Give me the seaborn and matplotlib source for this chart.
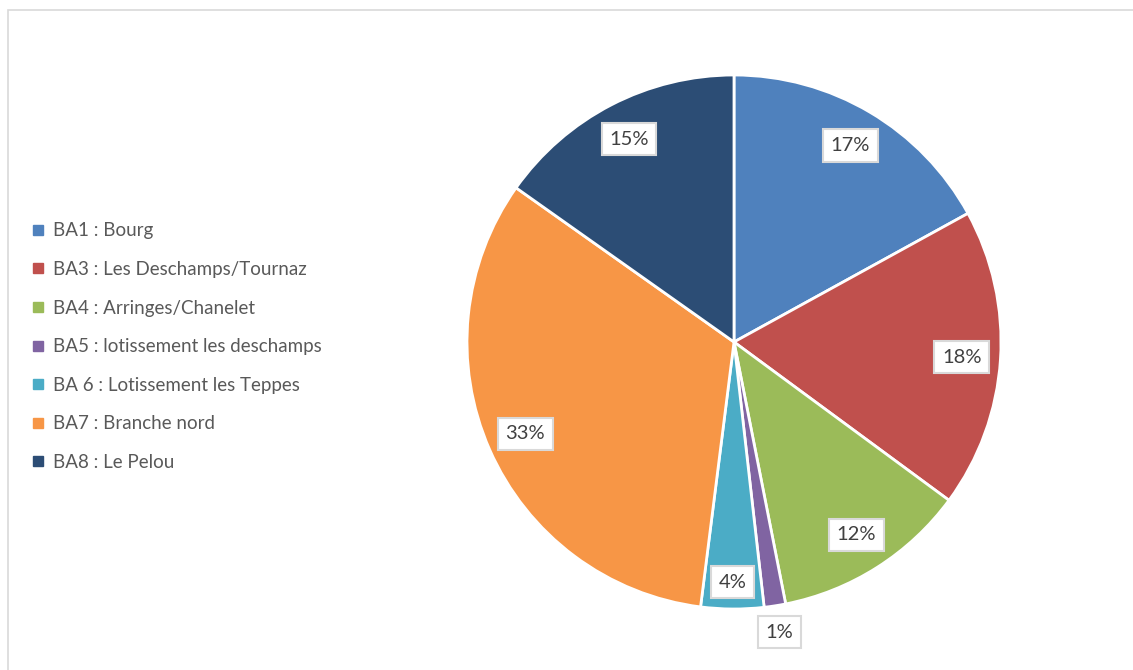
import matplotlib
matplotlib.use("Agg")
import matplotlib.pyplot as plt
import seaborn as sns
import numpy as np
from matplotlib.patches import Rectangle
from matplotlib.lines import Line2D

categories = ["BA1 : Bourg", "BA3 : Les Deschamps/Tournaz", "BA4 : Arringes/Chanelet",
              "BA5 : lotissement les deschamps", "BA 6 : Lotissement les Teppes",
              "BA7 : Branche nord", "BA8 : Le Pelou"]
values = [17.0, 18.1, 11.8, 1.3, 3.8, 32.8, 15.2]
colors = ["#4F81BD", "#C0504D", "#9BBB59", "#8064A2", "#4BACC6", "#F79646", "#2C4D75"]

sns.set_theme(style="white")
plt.rcParams['font.family'] = ['Lato', 'DejaVu Sans']

fig = plt.figure(figsize=(11.33, 6.7), dpi=100)
fig.patch.set_facecolor("white")
fig.add_artist(Rectangle((8/1133, -0.05), 1.2, (670-10)/670 + 0.05, transform=fig.transFigure,
                         fill=False, edgecolor="#D9D9D9", linewidth=1.2))

R = 267
ax = fig.add_axes([(734-R)/1133, (670-342-R)/670, 2*R/1133, 2*R/670])
wedges, _ = ax.pie(values, colors=colors, startangle=90, counterclock=False,
                   wedgeprops=dict(edgecolor="white", linewidth=2))
ax.set_xlim(-1, 1)
ax.set_ylim(-1, 1)
ax.set_aspect("equal")
ax.axis("off")

total = sum(values)
for w, v in zip(wedges, values):
    ang = np.deg2rad((w.theta1 + w.theta2) / 2)
    r = 1.1 if v < 2 else (0.9 if v < 5 else 0.855)
    ax.text(r*np.cos(ang), r*np.sin(ang), f"{round(v/total*100):.0f}%",
            ha="center", va="center", fontsize=14.5, color="#404040",
            bbox=dict(boxstyle="square,pad=0.38", facecolor="white", edgecolor="#D9D9D9", linewidth=1.5))

handles = [Line2D([0], [0], marker="s", linestyle="none", markersize=7,
                  markerfacecolor=c, markeredgecolor=c) for c in colors]
leg = fig.legend(handles, categories, loc="upper left", bbox_to_anchor=(23/1133, 1 - 215/670),
                 frameon=False, fontsize=13.5, labelspacing=1.15, handlelength=0.8,
                 handletextpad=0.4, labelcolor="#595959", borderaxespad=0)

fig.savefig("out.png", dpi=100, facecolor="white")
